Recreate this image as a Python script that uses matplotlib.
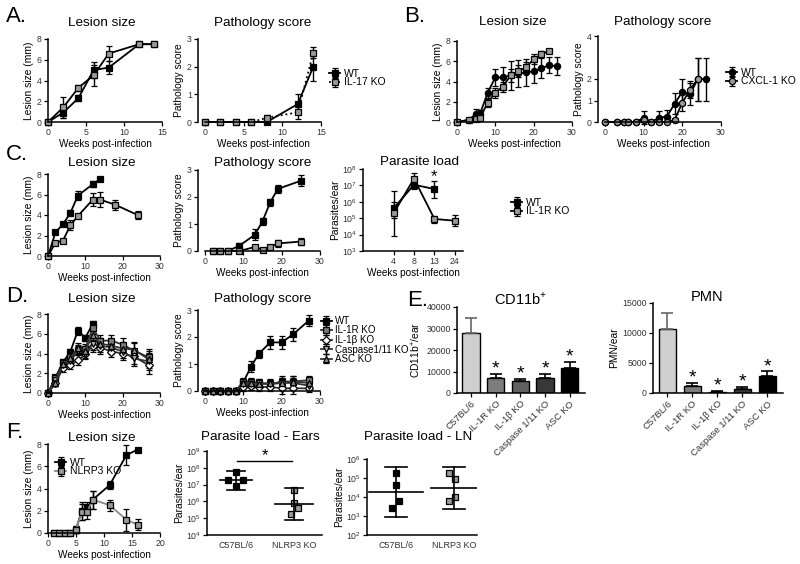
import numpy as np
import matplotlib
matplotlib.use('Agg')
import matplotlib.pyplot as plt

plt.rcParams['font.family'] = ['Liberation Sans', 'DejaVu Sans']
plt.rcParams['mathtext.fontset'] = 'custom'
plt.rcParams['mathtext.rm'] = 'Liberation Sans'

# ---------------- data ----------------
# A. IL-17 KO
a_weeks = [0, 2, 4, 6, 8, 12, 14]
a_les_wt = [0, 0.9, 2.3, 5.0, 5.25, 7.5, 7.5]
a_les_wt_err = [0, 0.5, 0.3, 0.8, 0.6, 0, 0]
a_les_ko = [0, 1.4, 3.3, 4.5, 6.6, 7.5, 7.5]
a_les_ko_err = [0, 1.0, 0.3, 1.0, 0.7, 0, 0]
a_path_wt = [0, 0, 0, 0, 0, 0.65, 2.0]
a_path_wt_err = [0, 0, 0, 0, 0, 0.35, 0.5]
a_path_ko = [0, 0, 0, 0, 0.15, 0.35, 2.5]
a_path_ko_err = [0, 0, 0, 0, 0.1, 0.25, 0.2]

# B. CXCL-1 KO
b_weeks_wt = [0, 3, 5, 6, 8, 10, 12, 14, 16, 18, 20, 22, 24, 26]
b_weeks_ko = [0, 3, 5, 6, 8, 10, 12, 14, 16, 18, 20, 22, 24]
b_les_wt = [0, 0.2, 0.8, 0.8, 2.9, 4.4, 4.4, 4.6, 4.8, 4.9, 5.0, 5.3, 5.6, 5.5]
b_les_wt_err = [0, 0.1, 0.5, 0.4, 0.5, 0.8, 1.0, 1.4, 1.3, 1.3, 1.1, 1.0, 0.8, 0.9]
b_les_ko = [0, 0.2, 0.3, 0.4, 1.9, 2.9, 3.5, 4.6, 5.0, 5.4, 6.2, 6.7, 7.0]
b_les_ko_err = [0, 0.1, 0.2, 0.3, 0.4, 0.5, 0.5, 0.6, 0.6, 0.5, 0.5, 0.3, 0.2]
b_path_wt = [0, 0, 0, 0, 0, 0.2, 0, 0.2, 0.25, 0.85, 1.4, 1.3, 2.0, 2.0]
b_path_wt_err = [0, 0, 0, 0, 0, 0.3, 0, 0.3, 0.3, 0.5, 0.6, 0.5, 1.0, 1.0]
b_path_ko = [0, 0, 0, 0, 0, 0.1, 0, 0, 0, 0.1, 0.9, 1.5, 2.0]
b_path_ko_err = [0, 0, 0, 0, 0, 0.1, 0, 0, 0, 0.1, 0.4, 0.4, 1.0]

# C. IL-1R KO
c_weeks_wt = [0, 2, 4, 6, 8, 12, 14]
c_weeks_ko = [0, 2, 4, 6, 8, 12, 14, 18, 24]
c_les_wt = [0, 2.3, 3.1, 4.2, 5.9, 7.0, 7.5]
c_les_wt_err = [0, 0.1, 0.1, 0.3, 0.4, 0.3, 0]
c_les_ko = [0, 1.3, 1.5, 3.0, 3.9, 5.5, 5.5, 5.0, 4.0]
c_les_ko_err = [0, 0.1, 0.1, 0.5, 0.2, 0.6, 0.7, 0.5, 0.4]
c_path_weeks = [2, 4, 6, 9, 13, 15, 17, 19, 25]
c_path_wt = [0, 0, 0, 0.2, 0.6, 1.1, 1.8, 2.3, 2.6]
c_path_wt_err = [0, 0, 0, 0.08, 0.2, 0.12, 0.12, 0.15, 0.2]
c_path_ko = [0, 0, 0, 0, 0.15, 0.05, 0.15, 0.28, 0.35]
c_path_ko_err = [0, 0, 0, 0, 0.08, 0.05, 0.08, 0.12, 0.12]
c_load_labels = ['4', '8', '13', '24']
c_load_wt = [4e5, 1.1e7, 6e6]
c_load_wt_lo = [1e5, 6e6, 1.8e6]
c_load_wt_hi = [4.3e6, 2e7, 1.9e7]
c_load_ko = [2e5, 2.6e7, 9e4, 7e4]
c_load_ko_lo = [8e3, 1e7, 5e4, 3.5e4]
c_load_ko_hi = [1e6, 5.5e7, 1.4e5, 1.5e5]

# D. inflammasome KOs
d_weeks = [0, 2, 4, 6, 8, 10, 12, 14, 17, 20, 23, 27]
d_les_wt = [0, 1.6, 3.1, 4.2, 6.3, 5.6, 7.0]
d_les_wt_err = [0, 0.2, 0.2, 0.3, 0.4, 0.3, 0.3]
d_les_il1r = [0, 1.5, 3.0, 3.6, 4.4, 4.5, 6.6, 5.3, 5.3, 4.9, 4.3, 3.6]
d_les_il1b = [0, 1.0, 2.5, 2.8, 3.3, 3.9, 4.8, 4.6, 4.2, 4.0, 3.7, 2.8]
d_les_casp = [0, 1.3, 2.8, 3.2, 4.3, 4.0, 5.0, 4.8, 4.6, 4.2, 3.5, 3.2]
d_les_asc = [0, 1.0, 2.9, 3.5, 4.6, 4.3, 5.9, 5.0, 4.8, 4.5, 4.4, 3.4]
d_les_ko_err = [0, 0.3, 0.4, 0.4, 0.5, 0.5, 0.6, 0.6, 0.6, 0.7, 0.8, 0.9]
d_path_wt = [0, 0, 0, 0, 0, 0.33, 0.9, 1.37, 1.8, 1.8, 2.1, 2.6]
d_path_wt_err = [0, 0, 0, 0, 0, 0.1, 0.2, 0.15, 0.25, 0.25, 0.25, 0.2]
d_path_il1r = [0, 0, 0, 0, 0, 0.35, 0.35, 0.3, 0.25, 0.35, 0.35, 0.4]
d_path_il1b = [0, 0, 0, 0, 0, 0.15, 0.2, 0.15, 0.15, 0.1, 0.1, 0.1]
d_path_casp = [0, 0, 0, 0, 0, 0.25, 0.25, 0.3, 0.25, 0.3, 0.3, 0.2]
d_path_asc = [0, 0, 0, 0, 0, 0.3, 0.3, 0.25, 0.3, 0.3, 0.35, 0.3]
d_path_ko_err = [0, 0, 0, 0, 0, 0.15, 0.15, 0.15, 0.15, 0.2, 0.2, 0.15]

# E. cell counts
e_groups = ['C57BL/6', 'IL-1R KO', 'IL-1β KO', 'Caspase 1/11 KO', 'ASC KO']
e_cd11b = [27900, 7000, 5600, 7000, 11600]
e_cd11b_err = [7000, 1800, 900, 1800, 2800]
e_pmn = [10600, 1250, 250, 650, 2800]
e_pmn_err = [2800, 500, 150, 350, 850]
e_colors = ['#cfcfcf', '#7c7c7c', '#606060', '#383838', '#000000']

# F. NLRP3 KO
f_weeks = [1, 2, 3, 4, 5, 6, 7, 8, 11, 14, 16]
f_les_wt = [0, 0, 0, 0, 0.3, 2.0, 2.3, 3.0, 4.3, 7.0, 7.5]
f_les_wt_err = [0, 0, 0, 0, 0.3, 0.8, 0.5, 0.8, 0.35, 0.9, 0]
f_les_ko = [0, 0, 0, 0, 0.3, 1.9, 1.9, 3.0, 2.5, 1.2, 0.75]
f_les_ko_err = [0, 0, 0, 0, 0.3, 0.7, 0.6, 0.8, 0.5, 1.0, 0.5]
f_groups = ['C57BL/6', 'NLRP3 KO']
f_ears_c57 = [5.6e7, 1.8e7, 1.8e7, 8.5e6]
f_ears_c57_dx = [0, -0.13, 0.12, 0]
f_ears_nlrp3 = [4.7e6, 7.6e5, 3.9e5, 1.7e5]
f_ears_nlrp3_dx = [0, 0, 0.06, -0.06]
f_ears_mean = [1.9e7, 7e5]
f_ears_lo = [5e6, 8e4]
f_ears_hi = [6.5e7, 6.3e6]
f_ln_c57 = [1.8e5, 4.4e4, 5.8e3, 2.8e3]
f_ln_c57_dx = [0, 0, 0.05, -0.07]
f_ln_nlrp3 = [1.8e5, 8.7e4, 1.05e4, 5.8e3]
f_ln_nlrp3_dx = [-0.09, 0.02, 0.02, -0.09]
f_ln_mean = [1.8e4, 3e4]
f_ln_lo = [8.5e2, 2.2e3]
f_ln_hi = [3.6e5, 4e5]

# ---------------- figure ----------------
W, H = 800, 564
fig = plt.figure(figsize=(8, 5.64), dpi=100)
GRAY = '#9a9a9a'
TICK = 6.3
LAB = 7.4
XLAB = 7.2


def add_ax(l, t, r, b):
    return fig.add_axes([l / W, 1 - b / H, (r - l) / W, (b - t) / H])


def style(ax, left_off=0):
    for s in ['top', 'right']:
        ax.spines[s].set_visible(False)
    for s in ['left', 'bottom']:
        ax.spines[s].set_linewidth(1.1)
    if left_off:
        ax.spines['left'].set_position(('outward', left_off))
    ax.tick_params(labelsize=TICK, length=3, width=0.9, pad=1.5, labelcolor='#333333')


def series(ax, x, y, err, mk='s', fc='black', ls='-', lc='black', ms=4.5, label=None):
    c = ax.errorbar(x, y, yerr=err, marker=mk, ls=ls, color=lc, mfc=fc, mec='black',
                    ecolor='black', ms=ms, lw=1.3, capsize=2, elinewidth=1.0,
                    mew=0.9, label=label)
    for art in c.get_children():
        art.set_clip_on(False)
    return c


def title(x, y, s, size=9.7):
    fig.text(x / W, 1 - y / H, s, ha='center', va='center', fontsize=size)


def letter(x, y, s):
    fig.text(x / W, 1 - y / H, s, ha='left', va='center', fontsize=16)


def legend(ax, x, y, size=7.5, sp=-0.1):
    ax.legend(loc='center left', bbox_to_anchor=(x / W, 1 - y / H),
              bbox_transform=fig.transFigure, frameon=False, fontsize=size,
              handlelength=1.1, handletextpad=0.3, borderpad=0, borderaxespad=0,
              labelspacing=sp)


def lesion_ax(ax, xmax, xt):
    style(ax)
    ax.set_xlim(0, xmax)
    ax.set_ylim(0, 8)
    ax.set_xticks(xt)
    ax.set_yticks([0, 2, 4, 6, 8])
    ax.set_ylabel('Lesion size (mm)', fontsize=LAB, labelpad=2)
    ax.set_xlabel('Weeks post-infection', fontsize=XLAB, labelpad=1)


def path_ax(ax, xmax, xt, ymax, yt):
    style(ax, left_off=5)
    ax.set_xlim(0, xmax)
    ax.set_ylim(0, ymax)
    ax.set_xticks(xt)
    ax.set_yticks(yt)
    ax.set_ylabel('Pathology score', fontsize=LAB, labelpad=2)
    ax.set_xlabel('Weeks post-infection', fontsize=XLAB, labelpad=1)


# ---- A ----
letter(6, 17, 'A.')
ax = add_ax(48, 39, 162, 122)
lesion_ax(ax, 15, [0, 5, 10, 15])
series(ax, a_weeks, a_les_wt, a_les_wt_err)
series(ax, a_weeks, a_les_ko, a_les_ko_err, fc=GRAY)
title(102, 23, 'Lesion size')

ax = add_ax(205, 39, 321, 122)
path_ax(ax, 15, [0, 5, 10, 15], 3, [0, 1, 2, 3])
series(ax, a_weeks, a_path_wt, a_path_wt_err, label='WT')
series(ax, a_weeks, a_path_ko, a_path_ko_err, fc=GRAY, ls=':', label='IL-17 KO')
title(263, 23, 'Pathology score')
legend(ax, 329, 78)

# ---- B ----
letter(404, 17, 'B.')
ax = add_ax(457, 41, 572, 122)
lesion_ax(ax, 30, [0, 10, 20, 30])
series(ax, b_weeks_wt, b_les_wt, b_les_wt_err, mk='o')
series(ax, b_weeks_ko, b_les_ko, b_les_ko_err, fc=GRAY)
title(513, 22, 'Lesion size')

ax = add_ax(605, 36, 721, 122)
path_ax(ax, 30, [0, 10, 20, 30], 4, [0, 1, 2, 4])
series(ax, b_weeks_wt, b_path_wt, b_path_wt_err, mk='o', label='WT')
series(ax, b_weeks_ko, b_path_ko, b_path_ko_err, mk='o', fc=GRAY, label='CXCL-1 KO')
title(663, 22, 'Pathology score')
legend(ax, 726, 77)

# ---- C ----
letter(6, 155, 'C.')
ax = add_ax(48, 174, 160, 256)
lesion_ax(ax, 30, [0, 10, 20, 30])
series(ax, c_weeks_wt, c_les_wt, c_les_wt_err)
series(ax, c_weeks_ko, c_les_ko, c_les_ko_err, fc=GRAY)
title(102, 163, 'Lesion size')

ax = add_ax(205, 170, 320, 251)
path_ax(ax, 30, [0, 10, 20, 30], 3, [0, 1, 2, 3])
series(ax, c_path_weeks, c_path_wt, c_path_wt_err)
series(ax, c_path_weeks, c_path_ko, c_path_ko_err, fc=GRAY)
title(263, 163, 'Pathology score')

ax = add_ax(363, 169, 463, 251)
style(ax)
ax.set_yscale('log')
ax.set_ylim(1e3, 1e8)
ax.set_xlim(-1.5, 3.4)
ax.set_xticks(range(len(c_load_labels)))
ax.set_xticklabels(c_load_labels)
ax.minorticks_off()
ax.set_yticks([1e3, 1e4, 1e5, 1e6, 1e7, 1e8])
xi = np.arange(len(c_load_wt))
series(ax, xi, c_load_wt,
       [np.subtract(c_load_wt, c_load_wt_lo), np.subtract(c_load_wt_hi, c_load_wt)], label='WT')
xk = np.arange(len(c_load_ko))
series(ax, xk, c_load_ko,
       [np.subtract(c_load_ko, c_load_ko_lo), np.subtract(c_load_ko_hi, c_load_ko)],
       fc=GRAY, label='IL-1R KO')
ax.text(2, 3.2e7, '*', ha='center', va='center', fontsize=12)
ax.set_ylabel('Parasites/ear', fontsize=LAB, labelpad=1)
ax.set_xlabel('Weeks post-infection', fontsize=XLAB, labelpad=1)
title(420, 162, 'Parasite load')
legend(ax, 511, 207)

# ---- D ----
letter(6, 296, 'D.')
ax = add_ax(48, 314, 160, 393)
lesion_ax(ax, 30, [0, 10, 20, 30])
nw = len(d_les_wt)
series(ax, d_weeks[:nw], d_les_wt, d_les_wt_err)
series(ax, d_weeks, d_les_il1r, d_les_ko_err, fc='#7a7a7a', lc='#333333')
series(ax, d_weeks, d_les_il1b, d_les_ko_err, mk='D', fc='white', ms=3.8, lc='#333333')
series(ax, d_weeks, d_les_casp, d_les_ko_err, mk='v', fc='#b5b5b5', lc='#333333')
series(ax, d_weeks, d_les_asc, d_les_ko_err, mk='^', fc='#8f8f8f', lc='#333333')
title(102, 299, 'Lesion size')

ax = add_ax(205, 310, 320, 391)
path_ax(ax, 30, [0, 10, 20, 30], 3, [0, 1, 2, 3])
series(ax, d_weeks, d_path_wt, d_path_wt_err, label='WT')
series(ax, d_weeks, d_path_il1r, d_path_ko_err, fc='#7a7a7a', lc='#333333', label='IL-1R KO')
series(ax, d_weeks, d_path_il1b, d_path_ko_err, mk='D', fc='white', ms=3.8, lc='#333333',
       label='IL-1β KO')
series(ax, d_weeks, d_path_casp, d_path_ko_err, mk='v', fc='#b5b5b5', lc='#333333',
       label='Caspase1/11 KO')
series(ax, d_weeks, d_path_asc, d_path_ko_err, mk='^', fc='#8f8f8f', lc='#333333',
       label='ASC KO')
title(263, 299, 'Pathology score')
legend(ax, 321, 340, size=7, sp=-0.05)

# ---- E ----
letter(407, 300, 'E.')


def bar_ax(ax, vals, errs, ymax, yt, ylabel, star_off):
    style(ax)
    x = np.arange(len(vals))
    ax.bar(x, vals, width=0.7, color=e_colors, edgecolor='black', linewidth=1.0, zorder=2)
    for xi_, v, e, c in zip(x, vals, errs, e_colors):
        ec = '#666666' if c == '#cfcfcf' else 'black'
        ax.errorbar(xi_, v, yerr=[[0], [e]], fmt='none', ecolor=ec, capsize=4,
                    elinewidth=1.2, capthick=1.2, zorder=3)
        if xi_ > 0:
            ax.text(xi_, v + e + star_off, '*', ha='center', va='bottom', fontsize=14)
    ax.set_xlim(-0.57, 4.62)
    ax.set_ylim(0, ymax)
    ax.set_yticks(yt)
    ax.set_xticks(x)
    ax.set_xticklabels(e_groups, rotation=45, ha='right', rotation_mode='anchor', fontsize=6.8)
    ax.tick_params(axis='x', length=3)
    ax.set_ylabel(ylabel, fontsize=LAB, labelpad=2)


ax = add_ax(457, 307, 585, 393)
bar_ax(ax, e_cd11b, e_cd11b_err, 40000, [0, 10000, 20000, 30000, 40000],
       'CD11b$^{+}$/ear', -1800)
title(521, 299, 'CD11b$^{+}$', size=10.5)

ax = add_ax(653, 303, 783, 393)
bar_ax(ax, e_pmn, e_pmn_err, 15000, [0, 5000, 10000, 15000], 'PMN/ear', -650)
title(707, 297, 'PMN', size=10.5)

# ---- F ----
letter(6, 433, 'F.')
ax = add_ax(48, 444, 160, 533)
lesion_ax(ax, 20, [0, 5, 10, 15, 20])
series(ax, f_weeks, f_les_wt, f_les_wt_err, label='WT')
series(ax, f_weeks, f_les_ko, f_les_ko_err, fc=GRAY, lc='#8a8a8a', label='NLRP3 KO')
ax.legend(loc='center left', bbox_to_anchor=(55 / W, 1 - 467 / H),
          bbox_transform=fig.transFigure, frameon=False, fontsize=7.5,
          handlelength=1.1, handletextpad=0.3, borderpad=0, borderaxespad=0,
          labelspacing=-0.1)
title(102, 438, 'Lesion size')


def scatter_ax(ax, pts, dxs, mean, lo, hi, ylim, yt, halfw, capw, xlim):
    style(ax)
    ax.set_yscale('log')
    ax.set_ylim(*ylim)
    ax.set_xlim(*xlim)
    ax.minorticks_off()
    ax.set_yticks(yt)
    ax.set_xticks([0, 1])
    ax.set_xticklabels(f_groups, fontsize=6.5)
    ax.tick_params(axis='x', length=0, pad=4)
    for i, (p, dx, fc) in enumerate(zip(pts, dxs, ['black', GRAY])):
        ax.plot(np.add(i, dx), p, 's', mfc=fc, mec='black', ms=5, mew=0.9, clip_on=False)
        ax.plot([i - halfw[i], i + halfw[i]], [mean[i], mean[i]], color='black', lw=1.2)
        ax.plot([i, i], [lo[i], hi[i]], color='black', lw=1.2)
        ax.plot([i - capw, i + capw], [lo[i], lo[i]], color='black', lw=1.2)
        ax.plot([i - capw, i + capw], [hi[i], hi[i]], color='black', lw=1.2)
    ax.set_ylabel('Parasites/ear', fontsize=LAB, labelpad=1)


ax = add_ax(207, 451, 322, 535)
scatter_ax(ax, [f_ears_c57, f_ears_nlrp3], [f_ears_c57_dx, f_ears_nlrp3_dx],
           f_ears_mean, f_ears_lo, f_ears_hi, (1e4, 1e9),
           [1e4, 1e5, 1e6, 1e7, 1e8, 1e9], [0.28, 0.33], 0.15, (-0.5, 1.48))
ax.plot([0.02, 0.97], [2.6e8, 2.6e8], color='black', lw=1.0, clip_on=False)
ax.text(0.5, 5.5e8, '*', ha='center', va='center', fontsize=12, clip_on=False)
title(260, 437, 'Parasite load - Ears')

ax = add_ax(367, 459, 477, 535)
scatter_ax(ax, [f_ln_c57, f_ln_nlrp3], [f_ln_c57_dx, f_ln_nlrp3_dx],
           f_ln_mean, f_ln_lo, f_ln_hi, (1e2, 1e6),
           [1e2, 1e3, 1e4, 1e5, 1e6], [0.47, 0.4], 0.19, (-0.5, 1.4))
title(418, 437, 'Parasite load - LN')

fig.savefig('out.png', dpi=100)
